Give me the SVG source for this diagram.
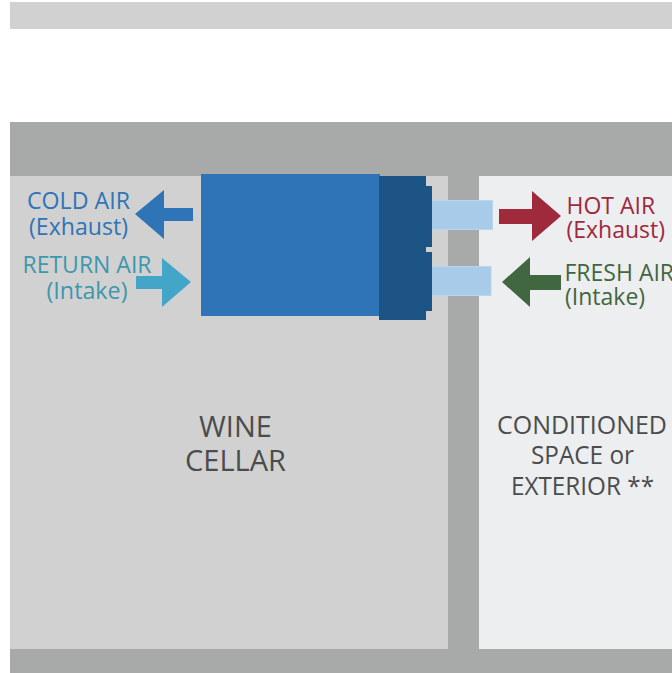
<svg xmlns="http://www.w3.org/2000/svg" width="672" height="673" viewBox="0 0 672 673">
<style>
text{font-family:"Open Sans","Noto Sans","Liberation Sans",sans-serif}
.big{fill:#4b4c4d;text-anchor:middle}
.lbl{font-size:23px}
.duct{fill:#a7cbe9;stroke:#b9d6ee;stroke-width:1}
</style>
<rect width="672" height="673" fill="#fff"/>
<rect x="10" y="2" width="662" height="27" fill="#d1d1d1"/>
<rect x="10" y="122" width="662" height="551" fill="#a8aaa9"/>
<g id="wine-cellar">
<rect x="10" y="176" width="438" height="473" fill="#d1d1d1"/>
<text class="big" x="235.500" y="437" font-size="29">WINE</text>
<text class="big" x="235.500" y="471" font-size="29">CELLAR</text>
</g>
<g id="conditioned-space">
<rect x="479" y="176" width="193" height="473" fill="#edeef0"/>
<text class="big" x="582" y="434" font-size="25.500" textLength="170" lengthAdjust="spacingAndGlyphs">CONDITIONED</text>
<text class="big" x="582.500" y="464" font-size="25.500" textLength="103" lengthAdjust="spacingAndGlyphs">SPACE or</text>
<text class="big" x="582.500" y="495" font-size="25.500" textLength="143" lengthAdjust="spacingAndGlyphs">EXTERIOR **</text>
</g>
<g id="ducts">
<rect class="duct" x="426" y="200.500" width="66.500" height="29"/>
<rect class="duct" x="426" y="266.500" width="65" height="29"/>
</g>
<g id="unit">
<rect x="201" y="174" width="179" height="142" fill="#2e74b7"/>
<path d="M379 176H426V186H432V247H426V252H432V311H426V320H379Z" fill="#1c5585"/>
</g>
<g id="connectors">
<path id="cold" d="M193 208H164V190L135 214L164 239V221H193Z" fill="#2e74b7"/>
<path id="return" d="M136 276H162V258L191 282L162 307V289H136Z" fill="#43a6c8"/>
<path id="hot" d="M499 209H532V191L561 216L532 241V224H499Z" fill="#9e2a3c"/>
<path id="fresh" d="M561 275H530V257L502 282L530 307V290H561Z" fill="#406740"/>
</g>
<g id="label-cold" fill="#2e74b7" class="lbl" text-anchor="middle">
<text x="78.500" y="209" textLength="103" lengthAdjust="spacingAndGlyphs">COLD AIR</text>
<text x="78.500" y="235" textLength="99" lengthAdjust="spacingAndGlyphs">(Exhaust)</text>
</g>
<g id="label-return" fill="#3d97ae" class="lbl" text-anchor="middle">
<text x="87" y="273" textLength="129" lengthAdjust="spacingAndGlyphs">RETURN AIR</text>
<text x="87" y="299" textLength="81" lengthAdjust="spacingAndGlyphs">(Intake)</text>
</g>
<g id="label-hot" fill="#9e2a3c" class="lbl">
<text x="566.500" y="214">HOT AIR</text>
<text x="566.500" y="238">(Exhaust)</text>
</g>
<g id="label-fresh" fill="#406740" class="lbl">
<text x="564.500" y="281">FRESH AIR</text>
<text x="565" y="305">(Intake)</text>
</g>
</svg>
